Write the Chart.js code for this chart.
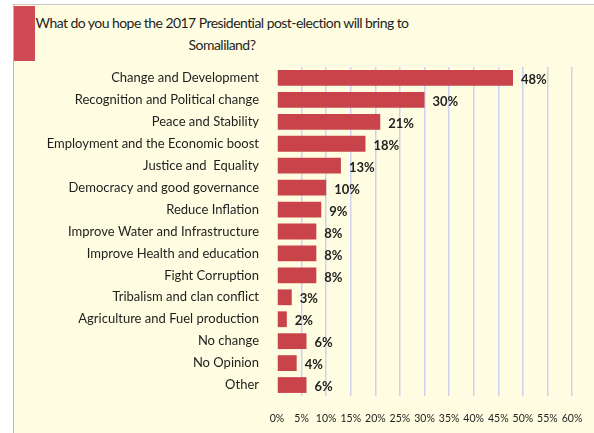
<!DOCTYPE html>
<html>
<head>
<meta charset="utf-8">
<script src="https://cdn.jsdelivr.net/npm/chart.js@4"></script>
<style>
  html, body { margin: 0; padding: 0; background: #fff; }
  #wrap { position: relative; width: 594px; height: 433px; overflow: hidden; }
  #panel {
    position: absolute; left: 13px; top: 4px; width: 600px; height: 440px;
    background: #FFFDE1; border-left: 1px solid #b8b8b8; border-top: 1px solid #c8c8c8;
  }
  #redblock { position: absolute; left: 14px; top: 6px; width: 21px; height: 55px; background: #CF4A52; }
  #title {
    position: absolute; left: 12px; width: 420px; top: 12px;
    font-family: Lato, sans-serif; font-size: 14px; line-height: 22px; color: #1e1e1e;
    text-align: center; white-space: nowrap; letter-spacing: -0.55px;
  }
  canvas { position: absolute; left: 0; top: 0; }
</style>
</head>
<body>
<div id="wrap">
  <div id="panel"></div>
  <div id="redblock"></div>
  <div id="title">What do you hope the 2017 Presidential post-election will bring to<br>Somaliland?</div>
  <canvas id="chart" width="594" height="433"></canvas>
</div>
<script>
// Survey answers, top to bottom
const categories = [
  'Change and Development',
  'Recognition and Political change',
  'Peace and Stability',
  'Employment and the Economic boost',
  'Justice and  Equality',
  'Democracy and good governance',
  'Reduce Inflation',
  'Improve Water and Infrastructure',
  'Improve Health and education',
  'Fight Corruption',
  'Tribalism and clan conflict',
  'Agriculture and Fuel production',
  'No change',
  'No Opinion',
  'Other'
];
const percentages = [48, 30, 21, 18, 13, 10, 9, 8, 8, 8, 3, 2, 6, 4, 6];
const tickValues = [0, 5, 10, 15, 20, 25, 30, 35, 40, 45, 50, 55, 60];

// value labels to the right of each bar
const valueLabels = {
  id: 'valueLabels',
  afterDatasetsDraw(chart) {
    const ctx = chart.ctx;
    const meta = chart.getDatasetMeta(0);
    ctx.save();
    ctx.font = 'bold 13px Lato, sans-serif';
    ctx.fillStyle = '#222';
    ctx.textBaseline = 'middle';
    meta.data.forEach((bar, i) => {
      ctx.fillText(percentages[i] + '%', bar.x + 8, bar.y + 2);
    });
    ctx.restore();
  }
};

const ctx = document.getElementById('chart').getContext('2d');
new Chart(ctx, {
  type: 'bar',
  data: {
    labels: categories,
    datasets: [{
      data: percentages,
      backgroundColor: '#C9434B',
      borderWidth: 0,
      categoryPercentage: 1,
      barPercentage: 0.72
    }]
  },
  plugins: [valueLabels],
  options: {
    indexAxis: 'y',
    responsive: false,
    animation: false,
    layout: { padding: { top: 67, right: 22, bottom: 0, left: 0 } },
    plugins: {
      legend: { display: false },
      tooltip: { enabled: false }
    },
    scales: {
      x: {
        min: 0,
        max: 60,
        afterBuildTicks(scale) {
          scale.ticks = tickValues.map(v => ({ value: v }));
        },
        afterFit(scale) {
          scale.height = 37;
          scale.paddingLeft = 0;
          scale.paddingRight = 0;
        },
        grid: {
          color: ctx => ctx.tick && ctx.tick.value === 0 ? 'rgba(0,0,0,0)' : '#CFCFF0',
          lineWidth: 1.5,
          drawTicks: false
        },
        border: { display: false },
        ticks: {
          padding: 16,
          minRotation: 0,
          maxRotation: 0,
          autoSkip: false,
          font: { family: 'Lato, sans-serif', size: 10.5 },
          color: '#222',
          callback: v => v + '%'
        }
      },
      y: {
        afterFit(scale) { scale.width = 277; },
        grid: { display: false },
        border: { display: false },
        ticks: {
          padding: 10,
          font: { family: 'Lato, sans-serif', size: 13 },
          color: '#1e1e1e'
        }
      }
    }
  }
});
</script>
</body>
</html>
